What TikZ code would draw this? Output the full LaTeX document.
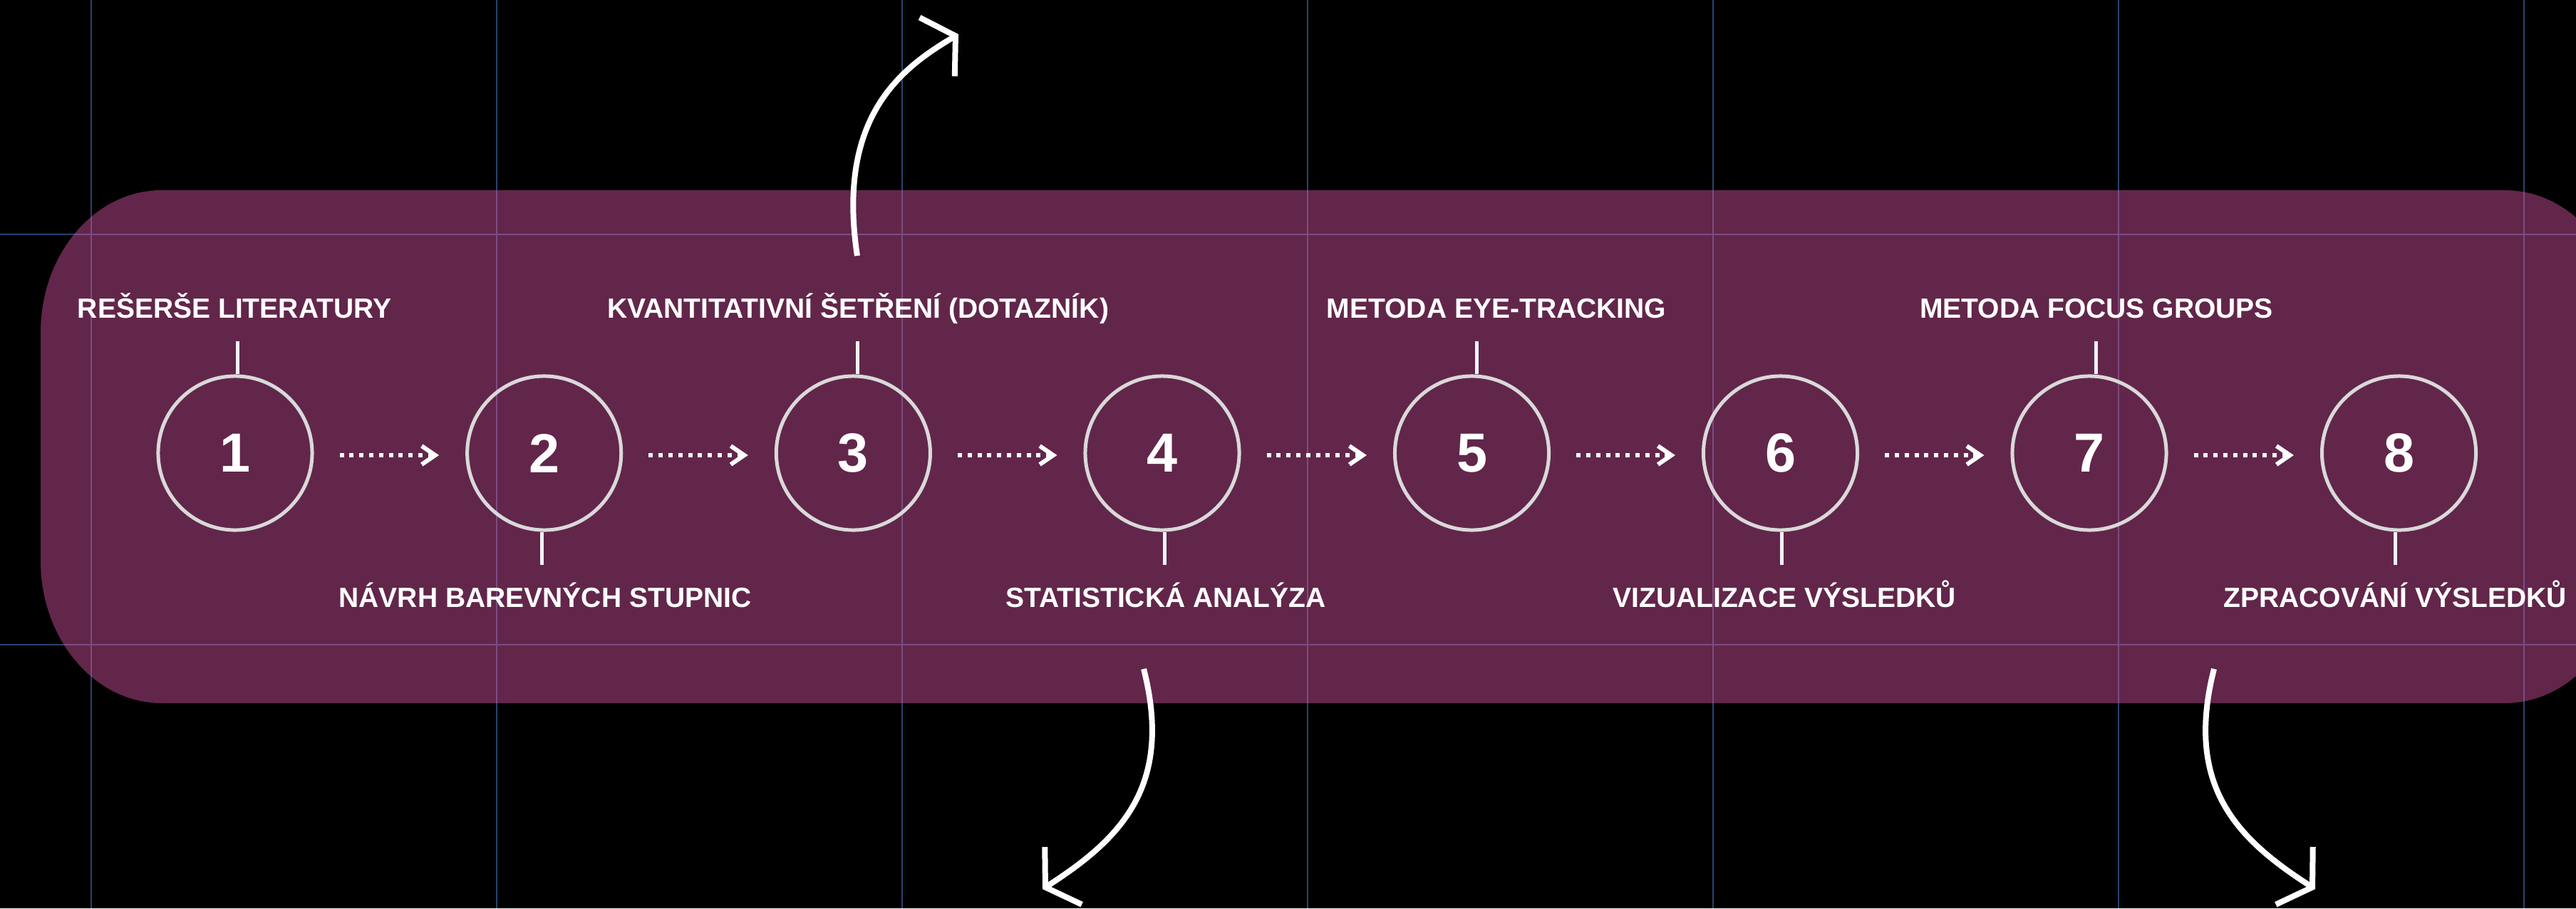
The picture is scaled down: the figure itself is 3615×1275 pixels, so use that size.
\documentclass[tikz,border=0pt]{standalone}
\usepackage{fontspec}
\setmainfont{Liberation Sans}
\usetikzlibrary{arrows.meta}
\definecolor{bandcol}{HTML}{62264A}
\definecolor{gridout}{HTML}{28446E}
\definecolor{gridin}{HTML}{7C4C84}
\definecolor{ringcol}{HTML}{D9D9D9}
\definecolor{tickcol}{HTML}{F0F4FA}
\begin{document}
\begin{tikzpicture}[x=0.01cm,y=-0.01cm,
  ring/.style={circle, draw=ringcol, line width=0.05cm, minimum size=2.16cm, inner sep=0pt, text=white, font=\fontsize{22}{26}\selectfont\bfseries},
  lbl/.style={anchor=base, inner sep=0pt, text=white, font=\fontsize{11.1}{13}\selectfont\bfseries},
  tickln/.style={draw=tickcol, line width=0.05cm},
  dotarrow/.style={draw=white, line width=0.06cm, dash pattern=on 0.06cm off 0.078cm, -{Straight Barb[length=0.19cm,width=0.26cm]}},
  bigarrow/.style={draw=white, line width=0.08cm, -{Straight Barb[length=0.3cm,width=0.96cm]}},
  gridlnout/.style={draw=gridout, line width=0.025cm},
  gridlnin/.style={draw=gridin, line width=0.025cm}
]
\useasboundingbox (0,0) rectangle (3615,1275);
\clip (0,0) rectangle (3615,1275);
\fill[black] (0,0) rectangle (3615,1275);
% grid outside
\foreach \gx in {128,697,1266,1835,2404,2973,3542} \draw[gridlnout] (\gx,0) -- (\gx,1275);
\foreach \gy in {329,905} \draw[gridlnout] (0,\gy) -- (3615,\gy);
% band
\fill[bandcol] (227,267) -- (3515,267) .. controls (3609,267) and (3685,356.5) .. (3685,467) -- (3685,787) .. controls (3685,897.5) and (3609,987) .. (3515,987) -- (227,987) .. controls (133,987) and (57,897.5) .. (57,787) -- (57,467) .. controls (57,356.5) and (133,267) .. (227,267) -- cycle;
\begin{scope}
\clip (227,267) -- (3515,267) .. controls (3609,267) and (3685,356.5) .. (3685,467) -- (3685,787) .. controls (3685,897.5) and (3609,987) .. (3515,987) -- (227,987) .. controls (133,987) and (57,897.5) .. (57,787) -- (57,467) .. controls (57,356.5) and (133,267) .. (227,267) -- cycle;
\foreach \gx in {128,697,1266,1835,2404,2973,3542} \draw[gridlnin] (\gx,0) -- (\gx,1275);
\foreach \gy in {329,905} \draw[gridlnin] (0,\gy) -- (3615,\gy);
\end{scope}
% circles
\foreach \i/\cx in {1/330,2/763.7,3/1197.4,4/1631,5/2065.5,6/2498.5,7/2932,8/3366.5}
  \node[ring] (c\i) at (\cx,636) {\i};
% dotted arrows
\foreach \i/\j in {1/2,2/3,3/4,4/5,5/6,6/7,7/8}
  \draw[dotarrow, shorten <=0.36cm, shorten >=0.37cm] ([yshift=-0.03cm]c\i.east) -- ([yshift=-0.03cm]c\j.west);
% ticks
\draw[tickln] ([xshift=0.03cm]c1.north) -- ++(0,-46);
\draw[tickln] ([xshift=0.06cm]c3.north) -- ++(0,-46);
\draw[tickln] ([xshift=0.07cm]c5.north) -- ++(0,-46);
\draw[tickln] ([xshift=0.09cm]c7.north) -- ++(0,-46);
\draw[tickln] ([xshift=-0.03cm]c2.south) -- ++(0,46);
\draw[tickln] ([xshift=0.03cm]c4.south) -- ++(0,46);
\draw[tickln] ([xshift=0.02cm]c6.south) -- ++(0,46);
\draw[tickln] ([xshift=-0.05cm]c8.south) -- ++(0,46);
% labels
\node[lbl] (t1) at (329,446) {REŠERŠE LITERATURY};
\node[lbl] (t3) at (1204,446) {KVANTITATIVNÍ ŠETŘENÍ (DOTAZNÍK)};
\node[lbl] (t5) at (2100,446) {METODA EYE-TRACKING};
\node[lbl] (t7) at (2942,446) {METODA FOCUS GROUPS};
\node[lbl] (t2) at (765,852) {NÁVRH BAREVNÝCH STUPNIC};
\node[lbl] (t4) at (1636,852) {STATISTICKÁ ANALÝZA};
\node[lbl] (t6) at (2504,852) {VIZUALIZACE VÝSLEDKŮ};
\node[lbl] (t8) at (3361,852) {ZPRACOVÁNÍ VÝSLEDKŮ};
% big curved arrows
\coordinate (a1s) at (1203,359);
\coordinate (a1e) at (1345,48);
\draw[bigarrow] (a1s) .. controls (1173,161) and (1268,94) .. (a1e);
\coordinate (a2s) at (1605,939);
\coordinate (a2e) at (1463,1248);
\draw[bigarrow] (a2s) .. controls (1647,1104) and (1572,1178) .. (a2e);
\coordinate (a3s) at (3107,939);
\coordinate (a3e) at (3249,1248);
\draw[bigarrow] (a3s) .. controls (3065,1104) and (3140,1178) .. (a3e);
\end{tikzpicture}
\end{document}
